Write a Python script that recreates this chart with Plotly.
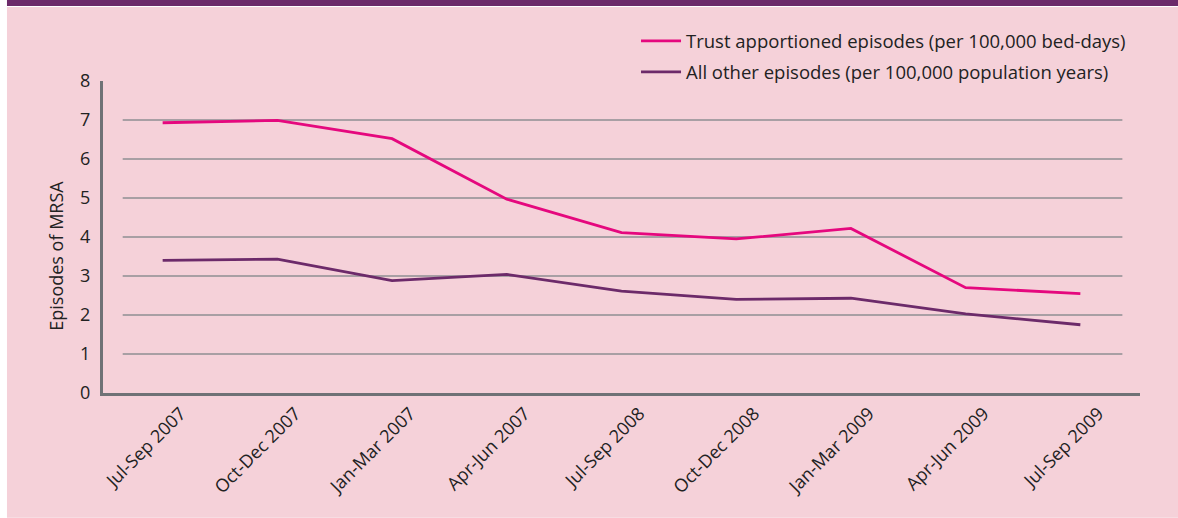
import plotly.graph_objects as go

# quarters on the x axis
quarters = ['Jul-Sep 2007', 'Oct-Dec 2007', 'Jan-Mar 2007', 'Apr-Jun 2007', 'Jul-Sep 2008',
            'Oct-Dec 2008', 'Jan-Mar 2009', 'Apr-Jun 2009', 'Jul-Sep 2009']

# Trust apportioned episodes (per 100,000 bed-days)
trust = [6.93, 6.99, 6.52, 4.97, 4.11, 3.95, 4.22, 2.70, 2.55]
# All other episodes (per 100,000 population years)
other = [3.40, 3.43, 2.88, 3.04, 2.61, 2.40, 2.43, 2.03, 1.75]

y_ticks = [0, 1, 2, 3, 4, 5, 6, 7, 8]

PINK = '#e5087e'
PURPLE = '#6c2a6a'
BG = '#f5d1d9'
FONT = 'Open Sans'

fig = go.Figure()
fig.add_trace(go.Scatter(x=quarters, y=trust, mode='lines', name='Trust apportioned episodes (per 100,000 bed-days)',
                         line=dict(color=PINK, width=2.8), legendgroup='a'))
fig.add_trace(go.Scatter(x=quarters, y=other, mode='lines', name='All other episodes (per 100,000 population years)',
                         line=dict(color=PURPLE, width=2.8), legendgroup='b'))

# pink panel + purple bar on a white page
shapes = [
    dict(type='rect', xref='paper', yref='paper', x0=-0.0926, x1=1.1, y0=-0.40, y1=1.2372,
         fillcolor=BG, line_width=0, layer='below'),
    dict(type='rect', xref='paper', yref='paper', x0=-0.0926, x1=1.1, y0=1.2404, y1=1.3,
         fillcolor=PURPLE, line_width=0, layer='below'),
]
# grid lines drawn as shapes so they stop short of the axes like the original
for t in y_ticks[1:8]:
    shapes.append(dict(type='line', xref='paper', yref='y', x0=0.019, x1=0.983, y0=t, y1=t,
                       line=dict(color='#8e8e92', width=1.3), layer='below'))

fig.update_layout(
    width=1178, height=518,
    margin=dict(l=103, r=38, t=81, b=125),
    paper_bgcolor='white', plot_bgcolor=BG,
    font=dict(family=FONT, size=18, color='#222'),
    shapes=shapes,
    showlegend=True,
    legend=dict(x=0.514, y=1.188, xanchor='left', yanchor='top', bgcolor='rgba(0,0,0,0)',
                traceorder='grouped', tracegroupgap=4, itemwidth=40,
                font=dict(family=FONT, size=18.5, color='#222')),
    annotations=[dict(text='Episodes of MRSA', textangle=-90, xref='paper', yref='paper',
                      x=-0.0453, y=0.44, xanchor='center', yanchor='middle', showarrow=False,
                      font=dict(family=FONT, size=18, color='#222'))],
)
fig.update_xaxes(range=[-0.52, 8.52], tickangle=-45, showgrid=False, showline=True,
                 linecolor='#6f7276', linewidth=3, ticks='', tickfont=dict(size=18),
                 ticklabelshift=18)
fig.update_yaxes(range=[0, 8], tickvals=y_ticks, showgrid=False, showline=True, zeroline=False,
                 linecolor='#6f7276', linewidth=3, ticks='', ticklabelstandoff=6)

fig.write_html("out.html", config={'displayModeBar': False},
               post_script="document.body.style.margin='0';")
